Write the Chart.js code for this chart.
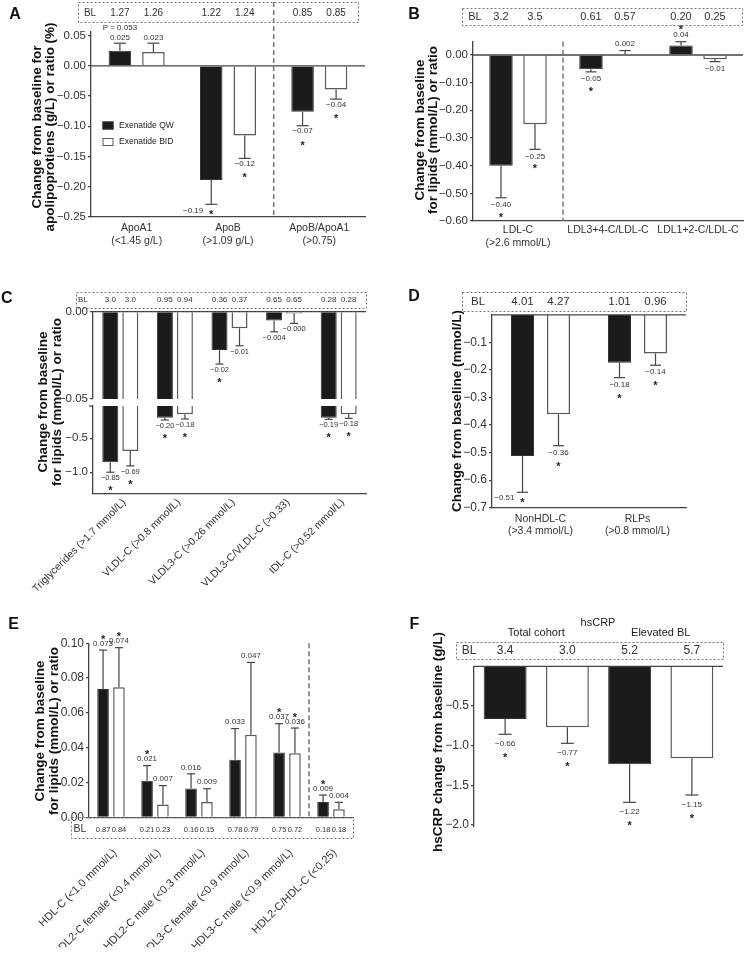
<!DOCTYPE html>
<html>
<head>
<meta charset="utf-8">
<title>Exenatide QW vs BID: lipid changes</title>
<script src="https://cdn.jsdelivr.net/npm/chart.js@4.4.1/dist/chart.umd.min.js"></script>
<style>
  html, body { margin: 0; padding: 0; background: #fff; }
  #page { position: relative; width: 751px; height: 956px; overflow: hidden; background: #fff; }
  #page canvas { position: absolute; }
</style>
</head>
<body>
<div id="page"></div>
<script>
const FONT = '"Liberation Sans", Arial, Helvetica, sans-serif';

// ---- A: apolipoproteins ----
const catsA = [['ApoA1', '(<1.45 g/L)'], ['ApoB', '(>1.09 g/L)'], ['ApoB/ApoA1', '(>0.75)']];
const qwA = [0.025, -0.189, -0.076];
const bidA = [0.023, -0.115, -0.039];
const qwSeA = [0.0125, 0.040, 0.023];
const bidSeA = [0.0145, 0.038, 0.016];
const qwLblA = ['0.025', '−0.19', '−0.07'];
const bidLblA = ['0.023', '−0.12', '−0.04'];
const qwSigA = [0, 1, 1];
const bidSigA = [0, 1, 1];
const qwNoteA = ['P = 0.053', '', ''];
const blQwA = ['1.27', '1.22', '0.85'];
const blBidA = ['1.26', '1.24', '0.85'];
const ticksA = [0.05, 0, -0.05, -0.10, -0.15, -0.20, -0.25];

// ---- B: LDL ----
const catsB = [['LDL-C', '(>2.6 mmol/L)'], 'LDL3+4-C/LDL-C', 'LDL1+2-C/LDL-C'];
const qwB = [-0.40, -0.052, 0.034];
const bidB = [-0.25, 0.003, -0.015];
const qwSeB = [0.116, 0.009, 0.014];
const bidSeB = [0.091, 0.013, 0.009];
const qwLblB = ['−0.40', '−0.05', '0.04'];
const bidLblB = ['−0.25', '0.002', '−0.01'];
const qwSigB = [1, 1, 1];
const bidSigB = [1, 0, 0];
const blQwB = ['3.2', '0.61', '0.20'];
const blBidB = ['3.5', '0.57', '0.25'];
const ticksB = [0, -0.05, -0.10, -0.15, -0.20, -0.25, -0.30, -0.35, -0.40, -0.45, -0.50, -0.55, -0.60];

// ---- C: triglycerides / VLDL (broken axis) ----
const catsC = ['Triglycerides (>1.7 mmol/L)', 'VLDL-C (>0.8 mmol/L)', 'VLDL3-C (>0.26 mmol/L)', 'VLDL3-C/VLDL-C (>0.33)', 'IDL-C (>0.52 mmol/L)'];
const qwC = [-0.853, -0.197, -0.022, -0.005, -0.197];
const bidC = [-0.687, -0.148, -0.0095, -0.001, -0.148];
const qwSeC = [0.147, 0.034, 0.008, 0.0065, 0.024];
const bidSeC = [0.22, 0.068, 0.010, 0.0057, 0.059];
const qwLblC = ['−0.85', '−0.20', '−0.02', '−0.004', '−0.19'];
const bidLblC = ['−0.69', '−0.18', '−0.01', '−0.000', '−0.18'];
const qwSigC = [1, 1, 1, 0, 1];
const bidSigC = [1, 1, 0, 0, 1];
const blQwC = ['3.0', '0.95', '0.36', '0.65', '0.28'];
const blBidC = ['3.0', '0.94', '0.37', '0.65', '0.28'];
const ticksCUpper = [0, -0.05];
const ticksCLower = [-0.5, -1.0];

// ---- D: non-HDL / RLPs ----
const catsD = [['NonHDL-C', '(>3.4 mmol/L)'], ['RLPs', '(>0.8 mmol/L)']];
const qwD = [-0.512, -0.174];
const bidD = [-0.361, -0.140];
const qwSeD = [0.132, 0.054];
const bidSeD = [0.114, 0.043];
const qwLblD = ['−0.51', '−0.18'];
const bidLblD = ['−0.36', '−0.14'];
const qwSigD = [1, 1];
const bidSigD = [1, 1];
const blQwD = ['4.01', '1.01'];
const blBidD = ['4.27', '0.96'];
const ticksD = [-0.1, -0.2, -0.3, -0.4, -0.5, -0.6, -0.7];

// ---- E: HDL ----
const catsE = ['HDL-C (<1.0 mmol/L)', 'HDL2-C female (<0.4 mmol/L)', 'HDL2-C male (<0.3 mmol/L)', 'HDL3-C female (<0.9 mmol/L)', 'HDL3-C male (<0.9 mmol/L)', 'HDL2-C/HDL-C (<0.25)'];
const qwE = [0.0737, 0.021, 0.0165, 0.0331, 0.0373, 0.0088];
const bidE = [0.0747, 0.0073, 0.0088, 0.0475, 0.0368, 0.0046];
const qwSeE = [0.0224, 0.0087, 0.0085, 0.0179, 0.0165, 0.004];
const bidSeE = [0.0228, 0.0109, 0.0076, 0.0415, 0.0145, 0.004];
const qwLblE = ['0.073', '0.021', '0.016', '0.033', '0.037', '0.009'];
const bidLblE = ['0.074', '0.007', '0.009', '0.047', '0.036', '0.004'];
const qwSigE = [1, 1, 0, 0, 1, 1];
const bidSigE = [1, 0, 0, 0, 1, 0];
const blQwE = ['0.87', '0.21', '0.16', '0.78', '0.75', '0.18'];
const blBidE = ['0.84', '0.23', '0.15', '0.79', '0.72', '0.18'];
const ticksE = [0, 0.02, 0.04, 0.06, 0.08, 0.10];

// ---- F: hsCRP ----
const catsF = ['Total cohort', 'Elevated BL'];
const qwF = [-0.664, -1.236];
const bidF = [-0.769, -1.16];
const qwSeF = [0.193, 0.48];
const bidSeF = [0.202, 0.464];
const qwLblF = ['−0.66', '−1.22'];
const bidLblF = ['−0.77', '−1.15'];
const qwSigF = [1, 1];
const bidSigF = [1, 1];
const blQwF = ['3.4', '5.2'];
const blBidF = ['3.0', '5.7'];
const ticksF = [-0.5, -1.0, -1.5, -2.0];

function fmt(v, d) {
  const s = Math.abs(v).toFixed(d);
  return (v < -1e-9 ? '\u2212' : '') + s;
}

function txt(ctx, s, x, y, size, opt) {
  opt = opt || {};
  ctx.font = (opt.bold ? 'bold ' : '') + size + 'px ' + FONT;
  ctx.fillStyle = opt.color || '#333';
  ctx.textAlign = opt.align || 'center';
  ctx.textBaseline = 'middle';
  ctx.fillText(s, x, y);
}

function seg(ctx, x1, y1, x2, y2, color, w, dash) {
  ctx.beginPath();
  ctx.setLineDash(dash || []);
  ctx.strokeStyle = color;
  ctx.lineWidth = w;
  ctx.moveTo(x1, y1);
  ctx.lineTo(x2, y2);
  ctx.stroke();
  ctx.setLineDash([]);
}

function star(ctx, x, y) {
  ctx.font = 'bold 11px ' + FONT;
  ctx.fillStyle = '#222';
  ctx.textAlign = 'center';
  ctx.textBaseline = 'alphabetic';
  ctx.fillText('*', x, y + 7);
}

// error bars, value labels, BL boxes, titles etc.
const decor = {
  id: 'decor',
  afterDatasetsDraw(chart, args, o) {
    const ctx = chart.ctx, a = chart.chartArea;
    const xs = chart.scales.x, ys = chart.scales.y;
    const px = v => v - o.ox, py = v => v - o.oy;
    ctx.save();

    if (o.zero) {
      const yz = ys.getPixelForValue(0);
      seg(ctx, a.left, yz, a.right, yz, '#444', 1.3);
    }
    if (o.topTick) seg(ctx, a.left - 4, a.top, a.left, a.top, '#444', 1.2);
    if (o.divider) {
      const d = o.divider;
      const xd = (xs.getPixelForValue(d.after) + xs.getPixelForValue(d.after + 1)) / 2;
      seg(ctx, xd, d.top != null ? py(d.top) : a.top, xd, a.bottom, '#777', 1.5, [5, 3]);
    }

    o.series.forEach((s, di) => {
      const meta = chart.getDatasetMeta(di);
      chart.data.datasets[di].data.forEach((v, j) => {
        if (v < ys.min || v > ys.max) return;
        const bx = meta.data[j].x;
        const up = v >= 0;
        const end = up ? v + s.se[j] : v - s.se[j];
        const yv = ys.getPixelForValue(v), ye = ys.getPixelForValue(end);
        seg(ctx, bx, yv, bx, ye, '#444', 1.2);
        seg(ctx, bx - o.cap / 2, ye, bx + o.cap / 2, ye, '#444', 1.2);
        if (up) {
          const ly = ye - o.gap;
          txt(ctx, s.lbl[j], bx, ly, o.size);
          if (s.sig[j]) star(ctx, bx, ly - o.starGap);
          if (s.note && s.note[j]) txt(ctx, s.note[j], bx, ly - 10, o.size);
        } else if (ye + 18 > a.bottom) {
          txt(ctx, s.lbl[j], bx - 8, ye + 6, o.size, { align: 'right' });
          if (s.sig[j]) star(ctx, bx, ye + 7);
        } else {
          txt(ctx, s.lbl[j], bx, ye + o.gap, o.size);
          if (s.sig[j]) star(ctx, bx, ye + o.gap + o.starGap);
        }
      });
    });

    if (o.bl) {
      const b = o.bl;
      ctx.setLineDash([2, 2]);
      ctx.strokeStyle = '#777';
      ctx.lineWidth = 1;
      ctx.strokeRect(px(b.box[0]) + 0.5, py(b.box[1]) + 0.5, b.box[2] - b.box[0], b.box[3] - b.box[1]);
      ctx.setLineDash([]);
      txt(ctx, 'BL', px(b.labelX), py(b.y), b.blSize || b.size);
      [b.qw, b.bid].forEach((arr, di) => {
        const meta = chart.getDatasetMeta(di);
        arr.forEach((t, j) => txt(ctx, t, meta.data[j].x, py(b.y), b.size));
      });
    }

    if (o.legend) {
      const g = o.legend;
      chart.data.datasets.forEach((ds, i) => {
        const yy = py(g.ys[i]);
        ctx.fillStyle = ds.backgroundColor;
        ctx.fillRect(px(g.x), yy - 4, 11, 8);
        ctx.strokeStyle = ds.borderColor;
        ctx.lineWidth = 1;
        ctx.strokeRect(px(g.x) + 0.5, yy - 3.5, 10, 7);
        txt(ctx, ds.label, px(g.tx), yy, g.size, { align: 'left', color: '#222' });
      });
    }

    if (o.header) {
      chart.data.labels.forEach((l, j) => txt(ctx, l, xs.getPixelForValue(j), py(o.header.y), o.header.size, { color: '#222' }));
    }
    (o.texts || []).forEach(t => txt(ctx, t.t, px(t.x), py(t.y), t.size, { color: '#222' }));

    if (o.title) {
      const t = o.title;
      t.lines.forEach((line, i) => {
        ctx.save();
        ctx.translate(px(t.xs[i]), py(t.y));
        ctx.rotate(-Math.PI / 2);
        txt(ctx, line, 0, 0, 13.5, { bold: true, color: '#111' });
        ctx.restore();
      });
    }
    if (o.letter) txt(ctx, o.letter[0], px(o.letter[1]), py(o.letter[2]), 16, { bold: true, color: '#111' });
    ctx.restore();
  }
};

function addCanvas(id, r) {
  const c = document.createElement('canvas');
  c.id = id;
  c.width = r[2];
  c.height = r[3];
  c.style.left = r[0] + 'px';
  c.style.top = r[1] + 'px';
  c.style.width = r[2] + 'px';
  c.style.height = r[3] + 'px';
  document.getElementById('page').appendChild(c);
  return c;
}

// p.canvas / p.area in page pixels; p.xh = x axis height (0 = hidden)
function panel(p) {
  const [cx, cy, cw, ch] = p.canvas;
  const [L, T, R, B] = p.area;
  const canvas = addCanvas(p.id, p.canvas);
  const bars = (label, data, bg, border, bw) => ({
    label, data, backgroundColor: bg, borderColor: border, borderWidth: bw,
    categoryPercentage: p.cat, barPercentage: p.bar
  });
  p.decor.ox = cx;
  p.decor.oy = cy;
  return new Chart(canvas, {
    type: 'bar',
    data: {
      labels: p.labels,
      datasets: [
        bars('Exenatide QW', p.qw, '#1b1b1b', '#333', 1),
        bars('Exenatide BID', p.bid, '#ffffff', '#5a5a5a', 1.5)
      ]
    },
    options: {
      responsive: false,
      animation: false,
      events: [],
      layout: { padding: { left: 0, top: T - cy, right: cx + cw - R, bottom: cy + ch - B - p.xh } },
      plugins: { legend: { display: false }, tooltip: { enabled: false }, decor: p.decor },
      scales: {
        x: {
          display: p.xh > 0,
          afterFit: s => { s.height = p.xh; s.paddingLeft = 0; s.paddingRight = 0; },
          grid: { display: false, drawTicks: false },
          border: { display: true, color: '#444', width: 1.3 },
          ticks: {
            font: { family: FONT, size: p.xSize || 10.5 }, color: '#333',
            maxRotation: p.rot || 0, minRotation: p.rot || 0, autoSkip: false,
            padding: p.xPad || 0, labelOffset: p.rot ? 4 : 0
          }
        },
        y: {
          min: p.min, max: p.max,
          afterBuildTicks: s => { s.ticks = p.ticks.map(v => ({ value: v })); },
          afterFit: s => { s.width = L - cx; s.paddingTop = 0; s.paddingBottom = 0; },
          grid: { display: true, drawOnChartArea: false, drawTicks: true, tickLength: 3, color: '#444', lineWidth: 1.2 },
          border: { display: true, color: '#444', width: 1.3 },
          ticks: { font: { family: FONT, size: p.ySize || 12 }, color: '#333', padding: 2, callback: v => fmt(v, p.dec) }
        }
      }
    },
    plugins: [decor]
  });
}

const titleLipids = ['Change from baseline', 'for lipids (mmol/L) or ratio'];

// A
panel({
  id: 'cA', canvas: [0, 0, 375, 290], area: [91, 32, 365, 217], xh: 60, xPad: 5,
  labels: catsA, qw: qwA, bid: bidA, cat: 0.734, bar: 0.672,
  min: -0.25, max: 0.056, ticks: ticksA, dec: 2, ySize: 11.5,
  decor: {
    letter: ['A', 15, 15],
    title: { lines: ['Change from baseline for', 'apolipoprotiens (g/L) or ratio (%)'], xs: [37.3, 50.7], y: 127 },
    zero: true, divider: { after: 1, top: 2 },
    bl: { box: [78, 2, 358, 22], labelX: 90, y: 13.5, size: 10, qw: blQwA, bid: blBidA },
    cap: 12, size: 8, gap: 5.5, starGap: 10.5,
    series: [
      { se: qwSeA, lbl: qwLblA, sig: qwSigA, note: qwNoteA },
      { se: bidSeA, lbl: bidLblA, sig: bidSigA }
    ],
    legend: { x: 102.5, ys: [125.5, 142], tx: 119, size: 8.5 }
  }
});

// B
panel({
  id: 'cB', canvas: [375, 0, 376, 290], area: [473, 41.7, 743, 221], xh: 55, xPad: 3,
  labels: catsB, qw: qwB, bid: bidB, cat: 0.756, bar: 0.69,
  min: -0.6, max: 0.048, ticks: ticksB, dec: 2, ySize: 11.5,
  decor: {
    letter: ['B', 414, 15],
    title: { lines: titleLipids, xs: [420, 433.3], y: 130 },
    zero: true, divider: { after: 0 },
    bl: { box: [462, 8, 742, 25], labelX: 475, y: 16.5, size: 11, qw: blQwB, bid: blBidB },
    cap: 11, size: 8, gap: 7, starGap: 9,
    series: [
      { se: qwSeB, lbl: qwLblB, sig: qwSigB },
      { se: bidSeB, lbl: bidLblB, sig: bidSigB }
    ]
  }
});

// C lower part of the broken axis
panel({
  id: 'cC2', canvas: [0, 285, 375, 320], area: [93, 406, 366, 493.3], xh: 105, rot: 45, xPad: 3, xSize: 10.5,
  labels: catsC, qw: qwC, bid: bidC, cat: 0.733, bar: 0.8,
  min: -1.31, max: -0.025, ticks: ticksCLower, dec: 1, ySize: 11.5,
  decor: {
    title: { lines: titleLipids, xs: [43.3, 57.3], y: 402 },
    topTick: true,
    cap: 8, size: 7.5, gap: 6, starGap: 9,
    series: [
      { se: qwSeC, lbl: qwLblC, sig: qwSigC },
      { se: bidSeC, lbl: bidLblC, sig: bidSigC }
    ]
  }
});

// C upper part
panel({
  id: 'cC1', canvas: [0, 285, 375, 125], area: [93, 311.7, 366, 399], xh: 0,
  labels: catsC, qw: qwC, bid: bidC, cat: 0.733, bar: 0.8,
  min: -0.05, max: 0, ticks: ticksCUpper, dec: 2, ySize: 11.5,
  decor: {
    letter: ['C', 6.7, 299],
    zero: true,
    bl: { box: [76, 292, 366, 308], labelX: 83, y: 300, size: 8, qw: blQwC, bid: blBidC },
    cap: 8, size: 7.5, gap: 6, starGap: 9,
    series: [
      { se: qwSeC, lbl: qwLblC, sig: qwSigC },
      { se: bidSeC, lbl: bidLblC, sig: bidSigC }
    ]
  }
});

// D
panel({
  id: 'cD', canvas: [375, 285, 376, 320], area: [492, 314.8, 686, 507.7], xh: 50, xPad: 5,
  labels: catsD, qw: qwD, bid: bidD, cat: 0.742, bar: 0.64,
  min: -0.7, max: 0, ticks: ticksD, dec: 1, ySize: 12,
  decor: {
    letter: ['D', 414, 296.7],
    title: { lines: ['Change from baseline (mmol/L)'], xs: [457], y: 411 },
    zero: true,
    bl: { box: [462, 292, 686, 311], labelX: 478, y: 302, size: 11.5, qw: blQwD, bid: blBidD },
    cap: 11, size: 8, gap: 7, starGap: 10,
    series: [
      { se: qwSeD, lbl: qwLblD, sig: qwSigD },
      { se: bidSeD, lbl: bidLblD, sig: bidSigD }
    ]
  }
});

// E
panel({
  id: 'cE', canvas: [0, 600, 375, 356], area: [89, 643.3, 353, 817.3], xh: 130, rot: 45, xPad: 29, xSize: 11,
  labels: catsE, qw: qwE, bid: bidE, cat: 0.722, bar: 0.73,
  min: 0, max: 0.10, ticks: ticksE, dec: 2, ySize: 12,
  decor: {
    letter: ['E', 13.7, 625],
    title: { lines: titleLipids, xs: [40, 54.3], y: 731 },
    divider: { after: 4 },
    bl: { box: [71, 817, 353, 838], labelX: 80, y: 829.5, size: 7.5, blSize: 10.5, qw: blQwE, bid: blBidE },
    cap: 8, size: 8, gap: 6.5, starGap: 8,
    series: [
      { se: qwSeE, lbl: qwLblE, sig: qwSigE },
      { se: bidSeE, lbl: bidLblE, sig: bidSigE }
    ]
  }
});

// F
panel({
  id: 'cF', canvas: [375, 600, 376, 356], area: [474, 666.4, 723, 826.4], xh: 0,
  labels: catsF, qw: qwF, bid: bidF, cat: 1.0, bar: 0.69,
  min: -2.02, max: 0, ticks: ticksF, dec: 1, ySize: 12,
  decor: {
    letter: ['F', 414.3, 625],
    title: { lines: ['hsCRP change from baseline (g/L)'], xs: [438], y: 742 },
    zero: true,
    header: { y: 633, size: 11 },
    texts: [{ t: 'hsCRP', x: 598, y: 622.5, size: 11 }],
    bl: { box: [456, 642, 723, 659], labelX: 469, y: 651, size: 12, qw: blQwF, bid: blBidF },
    cap: 13, size: 8, gap: 9.5, starGap: 10,
    series: [
      { se: qwSeF, lbl: qwLblF, sig: qwSigF },
      { se: bidSeF, lbl: bidLblF, sig: bidSigF }
    ]
  }
});
</script>
</body>
</html>
